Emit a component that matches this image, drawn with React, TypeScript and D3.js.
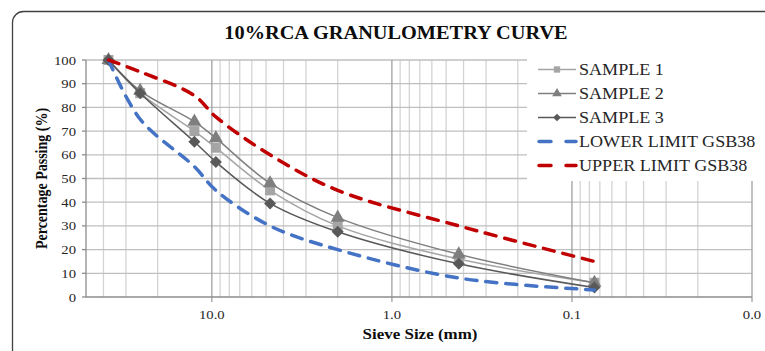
import { useEffect, useRef } from "react";
import * as d3 from "d3";

// sieve sizes (mm) and % passing
const sieves = [37.5, 25, 12.5, 9.5, 4.75, 2, 0.425, 0.075];
const sample1 = [100, 86, 70, 63, 45, 30, 16, 6];
const sample2 = [100, 87, 74, 67, 48, 33.5, 18, 6];
const sample3 = [100, 86, 65.5, 57, 39.5, 27.5, 14, 4];
const lowerLimit = [100, 75, 55, 45, 30, 20, 8, 3];
const upperLimit = [100, 95, 85, 76, 60, 45, 30, 15];

const yTicks = [0, 10, 20, 30, 40, 50, 60, 70, 80, 90, 100];
const xMajor = [10, 1, 0.1, 0.01];
const xLabels = ["10.0", "1.0", "0.1", "0.0"];

const FONT = "'Liberation Serif', 'Times New Roman', serif";
const STRETCH = 1.13; // the source picture is a little wider than tall

interface Series
{
    name: string;
    values: number[];
    color: string;
    width: number;
    dash?: string;
    marker?: "square" | "triangle" | "diamond";
}

const series: Series[] = [
    { name: "SAMPLE 1", values: sample1, color: "#a5a5a5", width: 1.5, marker: "square" },
    { name: "SAMPLE 2", values: sample2, color: "#7f7f7f", width: 1.5, marker: "triangle" },
    { name: "SAMPLE 3", values: sample3, color: "#595959", width: 1.5, marker: "diamond" },
    { name: "LOWER LIMIT GSB38", values: lowerLimit, color: "#4472c4", width: 3.5, dash: "11,9" },
    { name: "UPPER LIMIT GSB38", values: upperLimit, color: "#c00000", width: 3.5, dash: "11,9" },
];

const markerPath = ( mk: string, big: boolean ) =>
{
    if ( mk === "square" ) return d3.symbol().type( d3.symbolSquare ).size( big ? 100 : 40 )();
    if ( mk === "triangle" ) return d3.symbol().type( d3.symbolTriangle ).size( big ? 85 : 40 )();
    return d3.symbol().type( d3.symbolSquare ).size( big ? 72 : 30 )();
};

export default function App ()
{
    const svgRef = useRef<SVGSVGElement>( null );

    useEffect( () =>
    {
        if ( !svgRef.current ) return;
        const svg = d3.select( svgRef.current );
        svg.selectAll( "*" ).remove();

        const W = 765, H = 351;
        const m = { left: 86, right: 13, top: 60, bottom: 54 };
        const x = d3.scaleLog().domain( [ 50, 0.01 ] ).range( [ m.left, W - m.right ] );
        const y = d3.scaleLinear().domain( [ 0, 100 ] ).range( [ H - m.bottom, m.top ] );

        const label = ( px: number, py: number, txt: string, size: number, bold: boolean, anchor: string, rot = 0 ) =>
        {
            const t = svg.append( "g" ).attr( "transform", `translate(${ px },${ py }) rotate(${ rot }) scale(${ rot ? 1 : STRETCH },${ rot ? STRETCH : 1 })` )
                .append( "text" ).attr( "text-anchor", anchor )
                .style( "font-family", FONT ).style( "font-size", `${ size }px` ).attr( "fill", bold ? "#0d0d0d" : "#262626" )
                .text( txt );
            if ( bold ) t.style( "font-weight", "bold" );
        };

        svg.append( "rect" ).attr( "width", W ).attr( "height", H ).attr( "fill", "#fff" );
        svg.append( "rect" ).attr( "x", 12.5 ).attr( "y", 11.5 ).attr( "width", 800 ).attr( "height", 400 )
            .attr( "rx", 11 ).attr( "fill", "#fff" ).attr( "stroke", "#404040" ).attr( "stroke-width", 1.3 );

        const g = svg.append( "g" );

        // minor vertical grid
        const minor: number[] = [];
        [ 10, 1, 0.1, 0.01 ].forEach( ( d ) => { for ( let k = 2; k <= 9; k++ ) { const v = d * k; if ( v < 50 ) minor.push( v ); } } );
        g.append( "g" ).selectAll( "line" ).data( minor ).join( "line" )
            .attr( "x1", ( d ) => x( d ) ).attr( "x2", ( d ) => x( d ) )
            .attr( "y1", y( 0 ) ).attr( "y2", y( 100 ) )
            .attr( "stroke", "#d4d4d4" ).attr( "stroke-width", 1.3 );

        // horizontal grid
        g.append( "g" ).selectAll( "line" ).data( yTicks.slice( 1 ) ).join( "line" )
            .attr( "x1", m.left ).attr( "x2", W - m.right )
            .attr( "y1", ( d ) => y( d ) ).attr( "y2", ( d ) => y( d ) )
            .attr( "stroke", "#bfbfbf" ).attr( "stroke-width", 1.3 );

        // major vertical grid
        g.append( "g" ).selectAll( "line" ).data( xMajor ).join( "line" )
            .attr( "x1", ( d ) => x( d ) ).attr( "x2", ( d ) => x( d ) )
            .attr( "y1", y( 0 ) + 5 ).attr( "y2", y( 100 ) )
            .attr( "stroke", "#a0a0a0" ).attr( "stroke-width", 1.3 );

        // axes
        g.append( "line" ).attr( "x1", m.left ).attr( "x2", m.left ).attr( "y1", y( 0 ) ).attr( "y2", y( 100 ) )
            .attr( "stroke", "#8c8c8c" ).attr( "stroke-width", 1.3 );
        g.append( "line" ).attr( "x1", m.left ).attr( "x2", W - m.right ).attr( "y1", y( 0 ) ).attr( "y2", y( 0 ) )
            .attr( "stroke", "#8c8c8c" ).attr( "stroke-width", 1.3 );
        g.append( "g" ).selectAll( "line" ).data( yTicks ).join( "line" )
            .attr( "x1", m.left - 4 ).attr( "x2", m.left )
            .attr( "y1", ( d ) => y( d ) ).attr( "y2", ( d ) => y( d ) )
            .attr( "stroke", "#8c8c8c" ).attr( "stroke-width", 1.3 );

        // tick labels
        yTicks.forEach( ( d ) => label( m.left - 10, y( d ) + 4.5, String( d ), 13, false, "end" ) );
        xMajor.forEach( ( d, i ) => label( x( d ), 319, xLabels[ i ], 13, false, "middle" ) );

        // series
        series.forEach( ( s ) =>
        {
            const pts = sieves.map( ( v, i ) => [ x( v ), y( s.values[ i ] ) ] as [ number, number ] );
            const line = d3.line().curve( d3.curveCatmullRom.alpha( 0.5 ) );
            const p = g.append( "path" ).attr( "d", line( pts ) ).attr( "fill", "none" )
                .attr( "stroke", s.color ).attr( "stroke-width", s.width );
            if ( s.dash ) p.attr( "stroke-dasharray", s.dash ).attr( "stroke-linecap", "round" );
            if ( s.marker )
            {
                const rot = s.marker === "diamond" ? 45 : 0;
                g.append( "g" ).selectAll( "path" ).data( pts ).join( "path" )
                    .attr( "transform", ( d ) => `translate(${ d[ 0 ] },${ d[ 1 ] }) rotate(${ rot })` )
                    .attr( "d", markerPath( s.marker!, true ) ).attr( "fill", s.color );
            }
        } );

        // legend
        const lg = svg.append( "g" );
        lg.append( "rect" ).attr( "x", 527 ).attr( "y", 52 ).attr( "width", 230 ).attr( "height", 129 ).attr( "fill", "#fff" );
        series.forEach( ( s, i ) =>
        {
            const ly = 69.5 + i * 24;
            const l = lg.append( "line" ).attr( "x1", 538 ).attr( "x2", 576 ).attr( "y1", ly ).attr( "y2", ly )
                .attr( "stroke", s.color ).attr( "stroke-width", s.dash ? 3.5 : 1.5 );
            if ( s.dash ) l.attr( "x1", 539 ).attr( "stroke-dasharray", "12,15" ).attr( "stroke-linecap", "round" );
            if ( s.marker )
            {
                const rot = s.marker === "diamond" ? 45 : 0;
                lg.append( "path" ).attr( "transform", `translate(557,${ ly }) rotate(${ rot })` )
                    .attr( "d", markerPath( s.marker, false ) ).attr( "fill", s.color );
            }
        } );
        series.forEach( ( s, i ) => label( 579, 69.5 + i * 24 + 5.5, s.name, 16, false, "start" ) );

        // titles
        label( 396, 39, "10%RCA GRANULOMETRY CURVE", 18, true, "middle" );
        label( 47, y( 50 ), "Percentage Passing (%)", 14, true, "middle", -90 );
        label( 420, 339, "Sieve Size (mm)", 15, true, "middle" );
    }, [] );

    return (
        <svg ref={ svgRef } width={ 765 } height={ 351 } style={ { position: "absolute", left: 0, top: 0, display: "block" } } />
    );
}
